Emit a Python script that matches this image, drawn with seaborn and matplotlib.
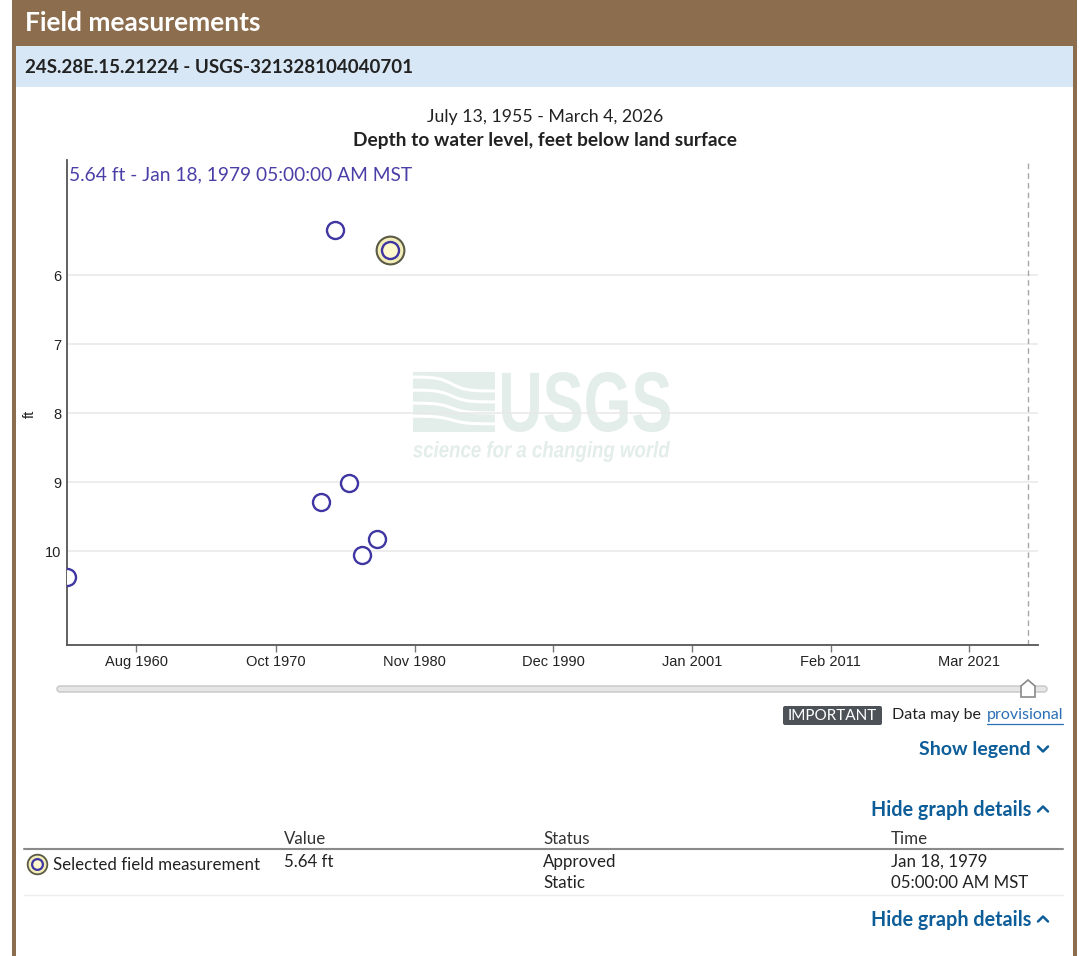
import matplotlib
matplotlib.use("Agg")
import matplotlib.pyplot as plt
import matplotlib.dates as mdates
import matplotlib.transforms as mtransforms
from matplotlib.patches import Rectangle, FancyBboxPatch, Polygon, PathPatch
from matplotlib.textpath import TextPath
from matplotlib.font_manager import FontProperties
import numpy as np
import pandas as pd
import seaborn as sns

dates = ["1955-07-13", "1974-01-15", "1975-01-05", "1976-01-10",
         "1977-01-05", "1978-01-20", "1979-01-18"]
depths = [10.37, 9.29, 5.35, 9.01, 10.06, 9.83, 5.64]
selected_date = "1979-01-18"
selected_depth = 5.64

tick_dates = ["1960-08-01", "1970-10-01", "1980-11-01", "1990-12-01",
              "2001-01-01", "2011-02-01", "2021-03-01"]
y_ticks = [6, 7, 8, 9, 10]
x_range = ["1955-07-13", "2026-03-04"]
marker_date = "2025-06-15"

W, H = 1079, 956
BROWN = "#8c6e4e"
PURPLE = "#3f36a2"
LINK = "#0d5d99"
TEXT = "#222222"

sns.set_theme(style="white")
plt.rcParams["font.family"] = ["Lato", "DejaVu Sans"]

fig = plt.figure(figsize=(W / 100, H / 100), dpi=100)

# page layer in pixel coordinates (y down)
page = fig.add_axes([0, 0, 1, 1], zorder=0)
page.set_xlim(0, W)
page.set_ylim(H, 0)
page.axis("off")


def fit_text(s, box, prop, color):
    # squeeze a text outline into a pixel box (left, top, right, bottom)
    tp = TextPath((0, 0), s, size=100, prop=prop)
    bb = tp.get_extents()
    x0, y0, x1, y1 = box
    tr = (mtransforms.Affine2D().translate(-bb.x0, -bb.y0)
          .scale((x1 - x0) / bb.width, -(y1 - y0) / bb.height).translate(x0, y1))
    page.add_patch(PathPatch(tr.transform_path(tp), fc=color, ec="none", lw=0))


# brown frame + header
page.add_patch(Rectangle((12, 0), 1065, 46, color=BROWN, lw=0))
page.add_patch(Rectangle((12, 0), 3.5, H, color=BROWN, lw=0))
page.add_patch(Rectangle((1073, 0), 4, H, color=BROWN, lw=0))
page.add_patch(Rectangle((15.5, 46), 1057.5, 41, color="#d8e7f5", lw=0))
page.text(25, 23, "Field measurements", color="white", fontsize=19,
          fontweight="bold", va="center", ha="left")
page.text(25, 67, "24S.28E.15.21224 - USGS-321328104040701", color=TEXT,
          fontsize=13.5, fontweight="bold", va="center", ha="left")

# chart titles
page.text(545, 117, "July 13, 1955 - March 4, 2026", color=TEXT, fontsize=12.8,
          ha="center", va="center")
page.text(545, 140, "Depth to water level, feet below land surface", color=TEXT,
          fontsize=13.8, fontweight="bold", ha="center", va="center")

# watermark
wm = "#e3edea"
page.add_patch(Rectangle((413, 372), 82, 60, color=wm, lw=0))
wx = np.linspace(413, 495, 60)
for k, off in enumerate([384, 396, 408, 420]):
    page.plot(wx, off + 7 * np.tanh((wx - 452) / 14) * (1 - 0.15 * k), color="white", lw=2.2)
fit_text("USGS", (502, 372, 670, 432),
         FontProperties(family=["Liberation Sans", "DejaVu Sans"], weight="bold"), wm)
fit_text("science for a changing world", (413, 441, 670, 462),
         FontProperties(family=["Liberation Sans", "DejaVu Sans"], weight="bold",
                        style="italic"), wm)

page.text(30, 414, "ft", color=TEXT, fontsize=10.5, rotation=90, ha="center",
          va="center", family=["Liberation Sans", "DejaVu Sans"])

# slider
page.add_patch(FancyBboxPatch((57, 686), 990, 6, boxstyle="round,pad=0,rounding_size=3",
                              fc="#e6e6e6", ec="#c6c6c6", lw=1))
page.add_patch(Polygon([(1021, 697), (1021, 686), (1028, 680), (1035, 686), (1035, 697)],
                       closed=True, fc="white", ec="#8a8a8a", lw=1.2))

# important badge
page.add_patch(FancyBboxPatch((783, 706), 99, 19, boxstyle="round,pad=0,rounding_size=2",
                              fc="#4d5259", ec="none"))
page.text(832, 716, "IMPORTANT", color="white", fontsize=11, ha="center", va="center")
page.text(892, 715, "Data may be", color=TEXT, fontsize=11.5, ha="left", va="center")
page.text(987, 715, "provisional", color="#2a6fb5", fontsize=11.5, ha="left", va="center")
page.plot([987, 1063], [724, 724], color="#2a6fb5", lw=0.9)


def chevron(x, y, up):
    d = -1 if up else 1
    page.plot([x - 5, x, x + 5], [y - 2.5 * d, y + 2.5 * d, y - 2.5 * d],
              color=LINK, lw=1.8, solid_capstyle="round")


page.text(1031, 750, "Show legend", color=LINK, fontsize=14, fontweight="bold",
          ha="right", va="center")
chevron(1043, 749, up=False)
for yy in (810, 920):
    page.text(1031, yy, "Hide graph details", color=LINK, fontsize=14.2,
              fontweight="bold", ha="right", va="center")
    chevron(1043, yy - 1, up=True)

# details table
for xx, lab in [(284, "Value"), (543, "Status"), (891, "Time")]:
    page.text(xx, 839, lab, color="#333333", fontsize=12.2, ha="left", va="center")
page.plot([24, 1063], [849, 849], color="#8a8a8a", lw=1.5)
page.plot([24, 1063], [895, 895], color="#ececec", lw=1)
page.scatter([37], [864], s=200, c="#f3eeb8", edgecolors="#5a5a46", linewidths=1.3, zorder=3)
page.scatter([37], [864], s=60, c="#fff8cc", edgecolors=PURPLE, linewidths=1.6, zorder=4)
page.text(53, 865, "Selected field measurement", color=TEXT, fontsize=12.2, ha="left", va="center")
page.text(284, 862, f"{selected_depth:.2f} ft", color=TEXT, fontsize=12.2, ha="left", va="center")
page.text(543, 862, "Approved", color=TEXT, fontsize=12.2, ha="left", va="center")
page.text(543, 883, "Static", color=TEXT, fontsize=12.2, ha="left", va="center")
page.text(891, 862, "Jan 18, 1979", color=TEXT, fontsize=12.2, ha="left", va="center")
page.text(891, 883, "05:00:00 AM MST", color=TEXT, fontsize=12.2, ha="left", va="center")

# tooltip of the selected point
page.text(69, 175, "5.64 ft - Jan 18, 1979 05:00:00 AM MST", color="#4a3fa6",
          fontsize=13.8, ha="left", va="center", zorder=5)

# the chart
df = pd.DataFrame({"date": pd.to_datetime(dates), "depth": depths})
ax = fig.add_axes([67 / W, 1 - 645 / H, (1038 - 67) / W, (645 - 160) / H], zorder=1)
ax.set_facecolor("none")

sns.scatterplot(data=df, x="date", y="depth", ax=ax, s=150, facecolor="white",
                edgecolor=PURPLE, linewidth=1.7, zorder=3)
sel = pd.to_datetime([selected_date])
ax.scatter(sel, [selected_depth], s=400, c="#f3eeb8", edgecolors="#5a5a46",
           linewidths=1.5, zorder=4)
ax.scatter(sel, [selected_depth], s=150, c="#fff8cc", edgecolors=PURPLE,
           linewidths=1.7, zorder=5)

ax.axvline(pd.to_datetime(marker_date), color="#a8a8a8", lw=1, ls=(0, (4, 3)), zorder=2)

ax.set_xlim(pd.to_datetime(x_range[0]), pd.to_datetime(x_range[1]))
ax.set_ylim(11.36, 4.33)
ax.set_yticks(y_ticks)
ax.set_yticklabels([str(v) for v in y_ticks])
ax.set_xticks(pd.to_datetime(tick_dates))
ax.xaxis.set_major_formatter(mdates.DateFormatter("%b %Y"))
ax.set_xlabel("")
ax.set_ylabel("")

ax.grid(axis="y", color="#e8e8e8", lw=1.1)
ax.grid(axis="x", visible=False)
for s in ("top", "right"):
    ax.spines[s].set_visible(False)
for s in ("left", "bottom"):
    ax.spines[s].set_color("#555555")
    ax.spines[s].set_linewidth(1.3)
ax.tick_params(axis="x", length=5, width=1, color="#777777", pad=2.5,
               labelsize=10.5, labelcolor=TEXT, direction="out", bottom=True)
ax.tick_params(axis="y", length=0, pad=4, labelsize=10.5, labelcolor=TEXT)
for lab in ax.get_xticklabels() + ax.get_yticklabels():
    lab.set_family(["Liberation Sans", "DejaVu Sans"])

fig.savefig("out.png", dpi=100)
